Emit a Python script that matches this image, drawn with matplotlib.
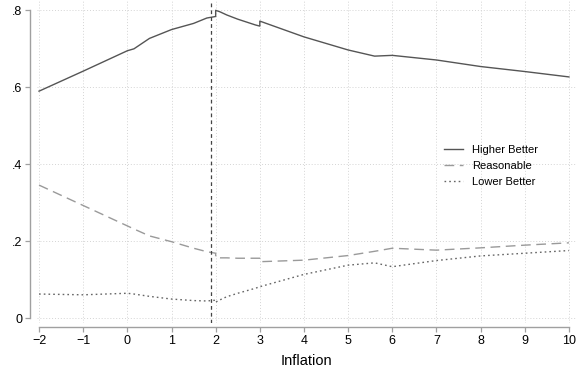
import matplotlib
matplotlib.use("Agg")
import matplotlib.pyplot as plt
from matplotlib.ticker import FixedLocator, FixedFormatter

plt.rcParams['font.family'] = ['Liberation Sans', 'DejaVu Sans']

# values
inflation = [-2, -1, 0, 0.15, 0.5, 1, 1.5, 1.8, 2, 2, 2.1, 2.25, 2.5, 2.9, 3, 3,
             4, 5, 5.6, 6, 7, 8, 9, 10]
higher = [0.590, 0.642, 0.695, 0.700, 0.727, 0.750, 0.766, 0.780, 0.784, 0.800,
          0.796, 0.788, 0.777, 0.762, 0.759, 0.772, 0.731, 0.697, 0.681, 0.683,
          0.671, 0.654, 0.641, 0.627]
reasonable = [0.346, 0.293, 0.240, 0.232, 0.214, 0.199, 0.182, 0.173, 0.169, 0.158,
              0.157, 0.157, 0.156, 0.156, 0.156, 0.147, 0.151, 0.163, 0.174, 0.182,
              0.177, 0.183, 0.190, 0.196]
lower = [0.063, 0.061, 0.065, 0.063, 0.057, 0.050, 0.046, 0.045, 0.047, 0.042,
         0.048, 0.056, 0.065, 0.078, 0.082, 0.082, 0.114, 0.138, 0.144, 0.134,
         0.150, 0.162, 0.169, 0.176]
target = 1.9

x_ticks = list(range(-2, 11))
x_labels = ['\u22122', '\u22121'] + [str(t) for t in range(0, 11)]
y_ticks = [0, 0.2, 0.4, 0.6, 0.8]
y_labels = ['0', '.2', '.4', '.6', '.8']

fig = plt.figure(figsize=(5.79, 3.69), dpi=100)
ax = fig.add_axes([0.0636, 0.1249, 0.9327, 0.8753])

ax.plot(inflation, higher, color='#555555', lw=1.0, label='Higher Better')
ax.plot(inflation, reasonable, color='#9a9a9a', lw=1.0, dashes=(7, 4), label='Reasonable')
ax.plot(inflation, lower, color='#666666', lw=1.0, dashes=(1.2, 2.2), label='Lower Better')
ax.axvline(target, color='#444444', lw=0.9, dashes=(3, 2.5))

ax.set_xlim(-2.05, 10.18)
ax.set_ylim(-0.012, 0.827)

ax.xaxis.set_major_locator(FixedLocator(x_ticks))
ax.xaxis.set_major_formatter(FixedFormatter(x_labels))
ax.yaxis.set_major_locator(FixedLocator(y_ticks))
ax.yaxis.set_major_formatter(FixedFormatter(y_labels))

ax.grid(True, color='#d4d4d4', lw=0.7, ls=(0, (1, 2)))
ax.set_axisbelow(True)

for s in ['top', 'right']:
    ax.spines[s].set_visible(False)
ax.spines['left'].set_position(('outward', 4.9))
ax.spines['bottom'].set_position(('outward', 2.9))
ax.spines['left'].set_bounds(0, 0.8)
ax.spines['bottom'].set_bounds(-2, 10)
for s in ['left', 'bottom']:
    ax.spines[s].set_color('#a0a0a0')
    ax.spines[s].set_linewidth(1.0)
ax.tick_params(length=3.6, width=0.9, color='#a0a0a0', labelsize=9, pad=2)

ax.set_xlabel('Inflation', fontsize=10.5, labelpad=5)

ax.legend(loc='upper left', bbox_to_anchor=(0.735, 0.583), frameon=False,
          fontsize=8, handlelength=1.75, handletextpad=0.8, labelspacing=0.55)

fig.savefig('out.png', dpi=100)
